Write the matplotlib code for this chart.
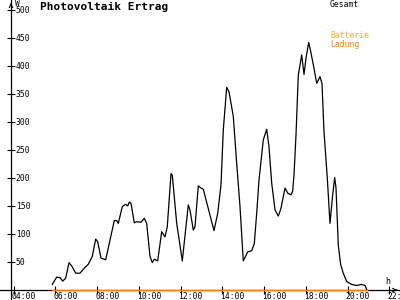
import matplotlib
matplotlib.use("Agg")
import matplotlib.pyplot as plt
import matplotlib.transforms as mtrans

# time of day in hours, total PV output in W
hours = [5.856, 6.067, 6.225, 6.354, 6.498, 6.656, 6.786, 6.977, 7.183, 7.389,
         7.581, 7.772, 7.935, 8.031, 8.189, 8.414, 8.620, 8.826, 8.941, 9.018,
         9.210, 9.372, 9.468, 9.545, 9.626, 9.784, 9.899, 10.105, 10.263, 10.378,
         10.537, 10.647, 10.743, 10.905, 11.097, 11.255, 11.365, 11.543, 11.605, 11.816,
         12.084, 12.371, 12.453, 12.611, 12.692, 12.850, 12.980, 13.090, 13.602, 13.780,
         13.938, 14.048, 14.211, 14.321, 14.527, 14.690, 14.848, 15.006, 15.217, 15.408,
         15.533, 15.648, 15.758, 15.964, 16.127, 16.237, 16.366, 16.525, 16.683, 16.812,
         17.004, 17.133, 17.291, 17.372, 17.435, 17.531, 17.641, 17.804, 17.914, 18.010,
         18.139, 18.235, 18.393, 18.522, 18.680, 18.776, 18.872, 19.030, 19.159, 19.289,
         19.384, 19.447, 19.557, 19.672, 19.796, 19.959, 20.199, 20.438, 20.678, 20.836,
         20.917]
gesamt = [10, 23, 22, 16, 21, 49, 43, 30, 30, 39,
          46, 60, 91, 86, 57, 54, 89, 124, 124, 119,
          149, 153, 150, 157, 155, 120, 122, 121, 128, 119,
          60, 49, 55, 52, 104, 95, 113, 208, 205, 119,
          52, 152, 143, 107, 113, 186, 182, 180, 106, 137,
          188, 286, 362, 354, 310, 226, 149, 52, 68, 70,
          83, 137, 196, 268, 287, 256, 191, 143, 132, 146,
          182, 173, 170, 177, 205, 277, 384, 420, 385, 414,
          442, 426, 396, 369, 381, 369, 283, 200, 119, 170,
          201, 182, 80, 45, 30, 15, 10, 8, 10, 8,
          1]
ladung = [0] * len(hours)

yticks = [50, 100, 150, 200, 250, 300, 350, 400, 450, 500]
xticks = [4, 6, 8, 10, 12, 14, 16, 18, 20, 22]
xlabels = ["04:00", "06:00", "08:00", "10:00", "12:00", "14:00",
           "16:00", "18:00", "20:00", "22:00"]

orange = "#ff8000"
gold = "#ffb000"
mono = "DejaVu Sans Mono"

fig = plt.figure(figsize=(4, 3), dpi=100)
ax = fig.add_axes([0, 0, 1, 1])
ax.set_xlim(3.351, 22.513)
ax.set_ylim(-17.86, 517.9)
y_axis_x = 3.878

for s in ["top", "right"]:
    ax.spines[s].set_visible(False)
ax.spines["left"].set_position(("data", y_axis_x))
ax.spines["bottom"].set_position(("data", 0))
ax.spines["left"].set_linewidth(0.9)
ax.spines["bottom"].set_linewidth(0.9)

ax.set_xticks(xticks)
ax.set_yticks(yticks)
ax.tick_params(direction="inout", length=6, width=0.8,
               labelbottom=False, labelleft=False)

ax.plot(hours, ladung, color=orange, lw=1.0, zorder=3)
ax.plot(hours, gesamt, color="black", lw=0.9, zorder=4)

# arrows on the axes
ax.annotate("", xy=(y_axis_x, 517.5), xytext=(y_axis_x, 505),
            arrowprops=dict(arrowstyle="->", lw=0.8, color="black",
                            mutation_scale=6))
ax.annotate("", xy=(22.51, 0), xytext=(22.2, 0),
            arrowprops=dict(arrowstyle="->", lw=0.8, color="black",
                            mutation_scale=6))

# tick labels
for v in yticks:
    ax.text(4.1, v, str(v), fontsize=5.8, family=mono, ha="left", va="center")
off = mtrans.offset_copy(ax.transData, fig=fig, x=-2, y=0, units="dots")
for t, lab in zip(xticks, xlabels):
    ax.text(t, -3.5, lab, fontsize=5.8, family=mono, ha="left", va="top",
            transform=off)

ax.text(15 / 400, 1 - 3 / 300, "W", fontsize=5.8, family=mono,
        ha="left", va="center", transform=ax.transAxes)
ax.text(385 / 400, 1 - 282 / 300, "h", fontsize=6, family=mono,
        ha="left", va="center", transform=ax.transAxes)
ax.text(40 / 400, 1 - 7 / 300, "Photovoltaik Ertrag", fontsize=8,
        family=mono, weight="bold", ha="left", va="center",
        transform=ax.transAxes)
ax.text(330 / 400, 1 - 4.5 / 300, "Gesamt", fontsize=5.8, family=mono,
        ha="left", va="center", transform=ax.transAxes)
ax.text(330 / 400, 1 - 36 / 300, "Batterie", fontsize=5.8, family=mono,
        color=gold, ha="left", va="center", transform=ax.transAxes)
ax.text(330 / 400, 1 - 44 / 300, "Ladung", fontsize=5.8, family=mono,
        color=orange, ha="left", va="center", transform=ax.transAxes)

fig.savefig("out.png", dpi=100)
